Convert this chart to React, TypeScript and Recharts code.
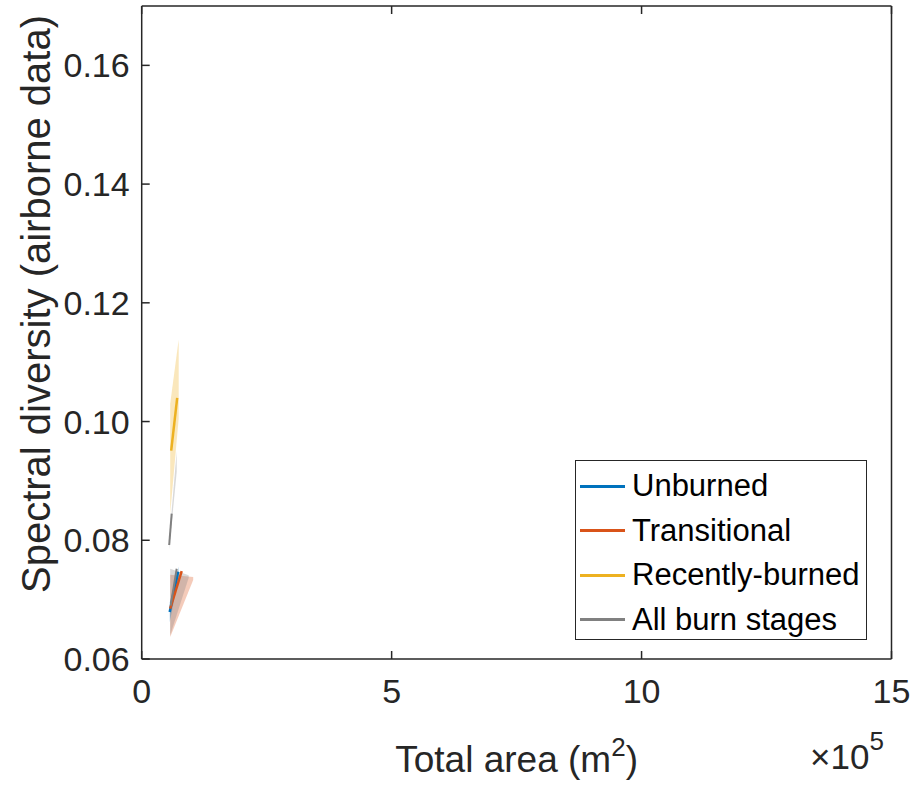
import { ComposedChart, Line, Area, XAxis, YAxis, Legend } from "recharts";

// x values in units of 1e5 m^2 (axis shows "x10^5")
const xTicks = [0, 5, 10, 15];
const yTicks = [0.06, 0.08, 0.1, 0.12, 0.14, 0.16];
const legendOrder = ["Unburned", "Transitional", "Recently-burned", "All burn stages"];

const unburnedX = [0.56, 0.73];
const unburnedY = [0.0679, 0.0747];
const unburnedBandX = [0.56, 0.74];
const unburnedLo = [0.0662, 0.0738];
const unburnedHi = [0.0695, 0.0756];

const transitionalX = [0.57, 0.8];
const transitionalY = [0.0685, 0.0748];
const transitionalBandX = [0.57, 1.03];
const transitionalLo = [0.0637, 0.0733];
const transitionalHi = [0.0742, 0.0738];

const recentX = [0.59, 0.71];
const recentY = [0.0951, 0.104];
const recentBandX = [0.57, 0.74];
const recentLo = [0.0845, 0.1005];
const recentHi = [0.103, 0.1138];

const allX = [0.55, 0.6];
const allY = [0.0792, 0.0845];
const allBandX = [0.55, 0.7];
const allLo = [0.0785, 0.0915];
const allHi = [0.08, 0.095];

const allLowX = [0.58, 0.7];
const allLowY = [0.069, 0.0752];
const allLowBandX = [0.57, 0.94];
const allLowLo = [0.064, 0.0737];
const allLowHi = [0.0752, 0.0741];

const FONT = "'Liberation Sans', Arial, Helvetica, sans-serif";
const INK = "#262626";
const BLUE = "#0072BD";
const RED = "#D95319";
const YELLOW = "#EDB120";
const GREY = "#808080";

// merge every series into one table keyed on x
const rows = new Map<number, any>();
function put(xs: number[], key: string, vals: any[]) {
  xs.forEach((x, i) => {
    const r = rows.get(x) ?? { x };
    r[key] = vals[i];
    rows.set(x, r);
  });
}
put(unburnedX, "unb", unburnedY);
put(unburnedBandX, "unbBand", unburnedLo.map((v, i) => [v, unburnedHi[i]]));
put(transitionalX, "tra", transitionalY);
put(transitionalBandX, "traBand", transitionalLo.map((v, i) => [v, transitionalHi[i]]));
put(recentX, "rec", recentY);
put(recentBandX, "recBand", recentLo.map((v, i) => [v, recentHi[i]]));
put(allX, "all", allY);
put(allBandX, "allBand", allLo.map((v, i) => [v, allHi[i]]));
put(allLowX, "allLow", allLowY);
put(allLowBandX, "allLowBand", allLowLo.map((v, i) => [v, allLowHi[i]]));
const data = [...rows.values()].sort((a, b) => a.x - b.x);

const LeftTick = (p: any) => (
  <g>
    <line x1={p.x} x2={p.x + 8} y1={p.y} y2={p.y} stroke={INK} strokeWidth={1.5} />
    <text x={p.x - 12} y={p.y} textAnchor="end" dominantBaseline="central" fontSize={34} fill={INK} fontFamily={FONT}>
      {p.payload.value.toFixed(2)}
    </text>
  </g>
);
const RightTick = (p: any) => (
  <line x1={p.x - 8} x2={p.x} y1={p.y} y2={p.y} stroke={INK} strokeWidth={1.5} />
);
const BottomTick = (p: any) => (
  <g>
    <line x1={p.x} x2={p.x} y1={p.y - 8} y2={p.y} stroke={INK} strokeWidth={1.5} />
    <text x={p.x} y={p.y + 32} textAnchor="middle" dominantBaseline="central" fontSize={34} fill={INK} fontFamily={FONT}>
      {p.payload.value}
    </text>
  </g>
);
const TopTick = (p: any) => (
  <line x1={p.x} x2={p.x} y1={p.y} y2={p.y + 8} stroke={INK} strokeWidth={1.5} />
);

const XLabel = (p: any) => {
  const vb = p.viewBox;
  const cx = vb.x + vb.width / 2;
  return (
    <g fontFamily={FONT} fill={INK}>
      <text x={cx} y={vb.y + 113} textAnchor="middle" fontSize={37}>
        Total area (m<tspan dy={-16} fontSize={26}>2</tspan>
        <tspan dy={16}>)</tspan>
      </text>
      <text x={810} y={vb.y + 110} fontSize={35}>
        ×10<tspan dy={-19} fontSize={26}>5</tspan>
      </text>
    </g>
  );
};

const YLabel = () => (
  <text x={36} y={304} transform="rotate(-90 36 304)" textAnchor="middle" dominantBaseline="central" fontSize={40} fill={INK} fontFamily={FONT}>
    Spectral diversity (airborne data)
  </text>
);

const LegendBox = (props: any) => {
  const items = legendOrder
    .map((n) => props.payload.find((e: any) => e.value === n))
    .filter(Boolean);
  return (
    <div
      style={{
        width: 292,
        height: 180,
        border: `1px solid ${INK}`,
        background: "#fff",
        fontFamily: FONT,
        fontSize: 31,
        color: "#000",
        paddingTop: 3,
        boxSizing: "border-box",
      }}
    >
      {items.map((e: any) => (
        <div key={e.value} style={{ display: "flex", alignItems: "center", height: 44.5 }}>
          <div style={{ width: 45, height: 3, background: e.color, marginLeft: 4, marginRight: 7 }} />
          <span>{e.value}</span>
        </div>
      ))}
    </div>
  );
};

export default function App() {
  return (
    <div style={{ position: "absolute", left: 0, top: 0, background: "#fff" }}>
      <ComposedChart width={913} height={786} data={data} margin={{ top: 5, right: 20.5, bottom: 67, left: 0 }}>
        <XAxis
          dataKey="x"
          type="number"
          domain={[0, 15]}
          ticks={xTicks}
          interval={0}
          height={60}
          tickSize={0}
          tickMargin={0}
          tickLine={false}
          axisLine={{ stroke: INK, strokeWidth: 1.5 }}
          tick={<BottomTick />}
          label={<XLabel />}
        />
        <XAxis
          xAxisId="top"
          dataKey="x"
          type="number"
          orientation="top"
          domain={[0, 15]}
          ticks={xTicks}
          interval={0}
          height={1}
          tickSize={0}
          tickMargin={0}
          tickLine={false}
          axisLine={{ stroke: INK, strokeWidth: 1.5 }}
          tick={<TopTick />}
        />
        <YAxis
          type="number"
          domain={[0.06, 0.17]}
          ticks={yTicks}
          interval={0}
          width={141.7}
          tickSize={0}
          tickMargin={0}
          tickLine={false}
          allowDataOverflow
          axisLine={{ stroke: INK, strokeWidth: 1.5 }}
          tick={<LeftTick />}
          label={<YLabel />}
        />
        <YAxis
          yAxisId="right"
          orientation="right"
          type="number"
          domain={[0.06, 0.17]}
          ticks={yTicks}
          interval={0}
          width={1}
          tickSize={0}
          tickMargin={0}
          tickLine={false}
          axisLine={{ stroke: INK, strokeWidth: 1.5 }}
          tick={<RightTick />}
        />

        <Area dataKey="recBand" fill={YELLOW} fillOpacity={0.3} stroke="none" connectNulls legendType="none" isAnimationActive={false} />
        <Area dataKey="allBand" fill={GREY} fillOpacity={0.3} stroke="none" connectNulls legendType="none" isAnimationActive={false} />
        <Area dataKey="traBand" fill={RED} fillOpacity={0.3} stroke="none" connectNulls legendType="none" isAnimationActive={false} />
        <Area dataKey="allLowBand" fill={GREY} fillOpacity={0.3} stroke="none" connectNulls legendType="none" isAnimationActive={false} />
        <Area dataKey="unbBand" fill={BLUE} fillOpacity={0.3} stroke="none" connectNulls legendType="none" isAnimationActive={false} />

        <Line name="Unburned" dataKey="unb" stroke={BLUE} strokeWidth={2.5} dot={false} connectNulls isAnimationActive={false} />
        <Line name="Transitional" dataKey="tra" stroke={RED} strokeWidth={2.5} dot={false} connectNulls isAnimationActive={false} />
        <Line name="Recently-burned" dataKey="rec" stroke={YELLOW} strokeWidth={2.5} dot={false} connectNulls isAnimationActive={false} />
        <Line name="All burn stages" dataKey="all" stroke={GREY} strokeWidth={2} dot={false} connectNulls isAnimationActive={false} />
        <Line name="All burn stages (low)" dataKey="allLow" stroke={GREY} strokeWidth={2} dot={false} connectNulls legendType="none" isAnimationActive={false} />

        <Legend
          layout="horizontal"
          verticalAlign="middle"
          align="center"
          content={<LegendBox />}
          wrapperStyle={{ left: 575, top: 460, width: 292, height: 180 }}
        />
      </ComposedChart>
    </div>
  );
}
